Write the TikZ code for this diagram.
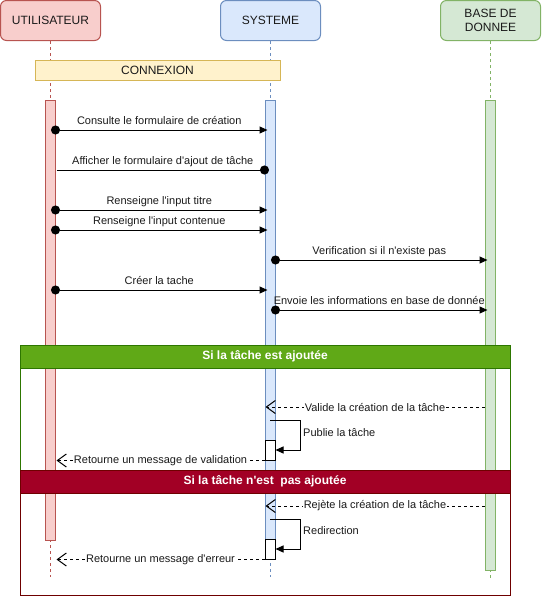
\documentclass[tikz,border=0pt]{standalone}
\usepackage{fontspec}
\setmainfont{Liberation Sans}[Ligatures=TeXOff]
\usetikzlibrary{arrows.meta,calc}
\definecolor{uFill}{HTML}{F8CECC}
\definecolor{uDraw}{HTML}{B85450}
\definecolor{sFill}{HTML}{DAE8FC}
\definecolor{sDraw}{HTML}{6C8EBF}
\definecolor{dFill}{HTML}{D5E8D4}
\definecolor{dDraw}{HTML}{82B366}
\definecolor{cFill}{HTML}{FFF2CC}
\definecolor{cDraw}{HTML}{D6B656}
\definecolor{gFill}{HTML}{60A917}
\definecolor{gDraw}{HTML}{2D7600}
\definecolor{rFill}{HTML}{A20025}
\definecolor{rDraw}{HTML}{6F0000}
\definecolor{txt}{HTML}{1A1A1A}
\tikzset{
  headbox/.style={draw, line width=1pt, rounded corners=6pt, minimum width=100pt, minimum height=40pt,
    inner sep=0pt, align=center, font=\fontsize{12}{14}\selectfont, text=txt},
  lifeline/.style={line width=1pt, dash pattern=on 3pt off 3pt},
  actbar/.style={draw, line width=1pt, minimum width=10pt, inner sep=0pt},
  whiteact/.style={draw=black, fill=white, line width=1pt, minimum width=10pt, minimum height=20pt, inner sep=0pt},
  framebody/.style={draw, line width=1pt, minimum width=490pt, minimum height=125pt, inner sep=0pt},
  framehead/.style={draw, line width=1pt, minimum width=490pt, minimum height=23pt, inner sep=0pt,
    text=white, font=\fontsize{12}{14}\selectfont\bfseries},
  syncmsg/.style={line width=1pt, {Circle[length=9pt]}-{Triangle[length=8pt,width=7pt]}},
  plainmsg/.style={line width=1pt, -{Circle[length=9pt]}},
  selfmsg/.style={line width=1pt, -{Triangle[length=8pt,width=7pt]}},
  retmsg/.style={line width=1pt, dash pattern=on 3pt off 3pt, -{Straight Barb[length=9pt,width=13pt,line width=1pt]}},
  toplabel/.style={anchor=base, yshift=5.5pt, inner sep=0pt, text=txt},
  midlabel/.style={fill=white, inner sep=1pt, text=txt},
  sidelabel/.style={anchor=west, inner sep=0pt, text=txt}
}
\begin{document}
\begin{tikzpicture}[x=1pt,y=-1pt,font=\fontsize{11}{13}\selectfont]
\useasboundingbox (0,0) rectangle (542,597);

% headers
\node[headbox, fill=uFill, draw=uDraw] (uhead) at (50.5,20.5) {UTILISATEUR};
\node[headbox, fill=sFill, draw=sDraw] (shead) at (270.5,20.5) {SYSTEME};
\node[headbox, fill=dFill, draw=dDraw] (dhead) at (490.5,20.5) {BASE DE\\DONNEE};

% end points of lifelines
\coordinate (uend) at (50,577);
\coordinate (send) at (270,577);
\coordinate (dend) at (490,578);

% lifelines
\draw[lifeline, draw=uDraw] (uhead.south -| uend) -- (uend);
\draw[lifeline, draw=sDraw] (shead.south -| send) -- (send);
\draw[lifeline, draw=dDraw] (dhead.south -| dend) -- (dend);

% connexion box
\node[draw=cDraw, fill=cFill, line width=1pt, minimum width=245pt, minimum height=20pt, inner sep=0pt,
  font=\fontsize{12}{14}\selectfont, text=txt] (conn) at (157.5,70) {CONNEXION};

% frame bodies
\node[framebody, draw=gDraw] (gframe) at (265,407.5) {};
\node[framebody, draw=rDraw] (rframe) at (265,532.5) {};

% activation bars
\node[actbar, fill=uFill, draw=uDraw, minimum height=440pt] (ubar) at (50,320) {};
\node[actbar, fill=sFill, draw=sDraw, minimum height=440pt] (sbar) at (270,320) {};
\node[actbar, fill=dFill, draw=dDraw, minimum height=470pt] (dbar) at (490,335) {};

% frame headers
\node[framehead, fill=gFill, draw=gDraw] (ghead) at (265,356.5) {Si la tâche est ajoutée};
\node[framehead, fill=rFill, draw=rDraw] (rhead) at (265,481.5) {Si la tâche n'est~ pas ajoutée};

% messages
\draw[syncmsg] ($(ubar.east |- 0,130)+(-4.5,0)$) -- ($(sbar.west |- 0,130)+(3,0)$)
  node[toplabel, midway] (l1) {Consulte le formulaire de création};
\draw[plainmsg] ($(ubar.east |- 0,170)+(1,0)$) -- ($(sbar.west |- 0,170)+(4.5,0)$)
  node[toplabel, midway] (l2) {Afficher le formulaire d'ajout de tâche};
\draw[syncmsg] ($(ubar.east |- 0,210)+(-4.5,0)$) -- ($(sbar.west |- 0,210)+(3,0)$)
  node[toplabel, midway] (l3) {Renseigne l'input titre};
\draw[syncmsg] ($(ubar.east |- 0,230)+(-4.5,0)$) -- ($(sbar.west |- 0,230)+(3,0)$)
  node[toplabel, midway] (l4) {Renseigne l'input contenue};
\draw[syncmsg] ($(sbar.east |- 0,260)+(-4.5,0)$) -- ($(dbar.west |- 0,260)+(3,0)$)
  node[toplabel, midway] (l5) {Verification si il n'existe pas};
\draw[syncmsg] ($(ubar.east |- 0,290)+(-4.5,0)$) -- ($(sbar.west |- 0,290)+(3,0)$)
  node[toplabel, midway] (l6) {Créer la tache};
\draw[syncmsg] ($(sbar.east |- 0,310)+(-4.5,0)$) -- ($(dbar.west |- 0,310)+(3,0)$)
  node[toplabel, midway] (l7) {Envoie les informations en base de donnée};

% success branch
\node[whiteact] (act1) at (270,450) {};
\draw[retmsg] (dbar.west |- 0,407) -- ($(sbar.west |- 0,407)+(1,0)$)
  node[midlabel, midway] (l8) {Valide la création de la tâche};
\draw[selfmsg] (sbar.center |- 0,420) -- (300,420) -- (300,450) -- (act1.east);
\node[sidelabel] (l9) at (303,433) {Publie la tâche};
\draw[retmsg] (act1.south west) -- ($(ubar.east |- act1.south)+(1,0)$)
  node[midlabel, midway] (l10) {Retourne un message de validation};

% failure branch
\node[whiteact] (act2) at (270,549) {};
\draw[retmsg] (dbar.west |- 0,506) -- ($(sbar.west |- 0,506)+(1,0)$)
  node[midlabel, midway] (l11) {Rejète la création de la tâche};
\draw[selfmsg] (sbar.center |- 0,519) -- (300,519) -- (300,549) -- (act2.east);
\node[sidelabel] (l12) at (303,531) {Redirection};
\draw[retmsg] (act2.south west) -- ($(ubar.east |- act2.south)+(1,0)$)
  node[midlabel, midway] (l13) {Retourne un message d'erreur};
\end{tikzpicture}
\end{document}
